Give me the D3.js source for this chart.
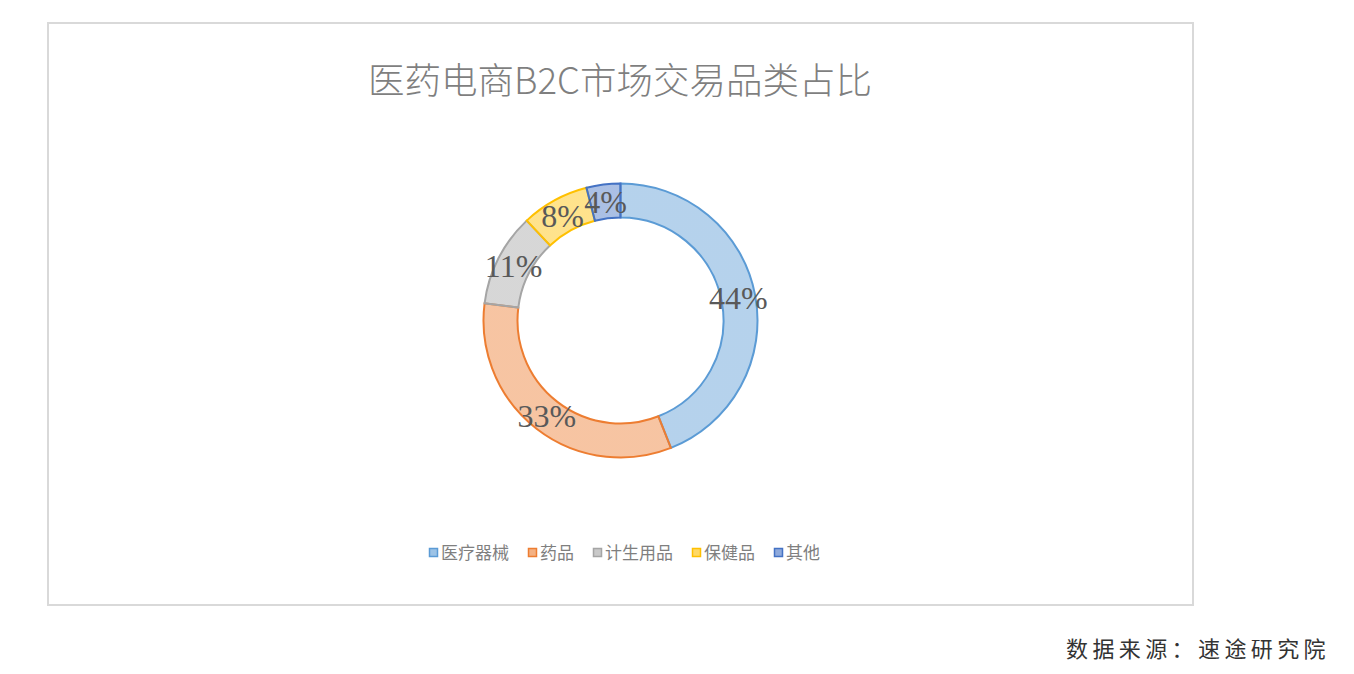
<!DOCTYPE html>
<html>
<head>
<meta charset="utf-8">
<script src="https://cdn.jsdelivr.net/npm/d3@7"></script>
<style>
  html, body { margin: 0; padding: 0; background: #fff; }
  svg { display: block; }
</style>
</head>
<body>
<svg id="chart" width="1354" height="674"></svg>
<script>
(function () {
  'use strict';

  // data
  const categories = ['医疗器械', '药品', '计生用品', '保健品', '其他'];
  const shares = [44, 33, 11, 8, 4];
  const labels = ['44%', '33%', '11%', '8%', '4%'];
  const strokeColors = ['#5b9bd5', '#ed7d31', '#a5a5a5', '#ffc000', '#4472c4'];

  const svg = d3.select('#chart');

  // chart frame
  svg.append('rect').attr('x', 48).attr('y', 23).attr('width', 1145).attr('height', 582)
    .attr('fill', '#fff').attr('stroke', '#d9d9d9').attr('stroke-width', 2);

  svg.append('text').attr('x', 620).attr('y', 94).attr('text-anchor', 'middle')
    .style('font-family', '"Noto Sans CJK SC", "Noto Sans", sans-serif')
    .style('font-weight', 300).style('font-size', '36.5px').style('fill', '#7f7f7f')
    .text('医药电商B2C市场交易品类占比');

  const cx = 620.5, cy = 320.5, rOut = 137, rIn = 103;

  // vertical gradient per slice, lighter at top
  const defs = svg.append('defs');
  strokeColors.forEach((c, i) => {
    const g = defs.append('linearGradient').attr('id', 'grad' + i)
      .attr('gradientUnits', 'userSpaceOnUse')
      .attr('x1', 0).attr('y1', cy - rOut).attr('x2', 0).attr('y2', cy + rOut);
    g.append('stop').attr('offset', '0%').attr('stop-color', c).attr('stop-opacity', 0.45);
    g.append('stop').attr('offset', '100%').attr('stop-color', c).attr('stop-opacity', 0.68);
  });

  const pie = d3.pie().sort(null).value(d => d)(shares);
  const arc = d3.arc().innerRadius(rIn).outerRadius(rOut);
  const mid = d3.arc().innerRadius((rIn + rOut) / 2).outerRadius((rIn + rOut) / 2);

  const g = svg.append('g').attr('transform', `translate(${cx},${cy})`);
  g.selectAll('path.slice').data(pie).join('path').attr('class', 'slice')
    .attr('d', arc)
    .attr('fill', (d, i) => `url(#grad${i})`)
    .attr('stroke', (d, i) => strokeColors[i]).attr('stroke-width', 2);

  g.selectAll('text.lbl').data(pie).join('text').attr('class', 'lbl')
    .attr('transform', d => `translate(${mid.centroid(d)})`)
    .attr('text-anchor', 'middle').attr('dy', '0.35em')
    .style('font-family', '"Liberation Serif", "DejaVu Serif", serif')
    .style('font-size', '32px').style('fill', '#595959')
    .text((d, i) => labels[i]);

  // legend
  const legend = svg.append('g').attr('transform', 'translate(429,553)');
  let x = 0;
  categories.forEach((name, i) => {
    const item = legend.append('g').attr('transform', `translate(${x},0)`);
    item.append('rect').attr('x', 0.5).attr('y', -4.5).attr('width', 8).attr('height', 8)
      .attr('fill', strokeColors[i]).attr('fill-opacity', 0.6)
      .attr('stroke', strokeColors[i]).attr('stroke-width', 1.5);
    const t = item.append('text').attr('x', 12).attr('dy', '0.36em')
      .style('font-family', '"Noto Sans CJK SC", sans-serif')
      .style('font-size', '17px').style('fill', '#7f7f7f').text(name);
    x += 12 + t.node().getComputedTextLength() + 19;
  });

  // source note
  svg.append('text').attr('x', 1330).attr('y', 657).attr('text-anchor', 'end')
    .style('font-family', '"Noto Sans CJK SC", sans-serif')
    .style('font-size', '22px').style('letter-spacing', '4.4px').style('fill', '#333')
    .text('数据来源：速途研究院');
})();
</script>
</body>
</html>
